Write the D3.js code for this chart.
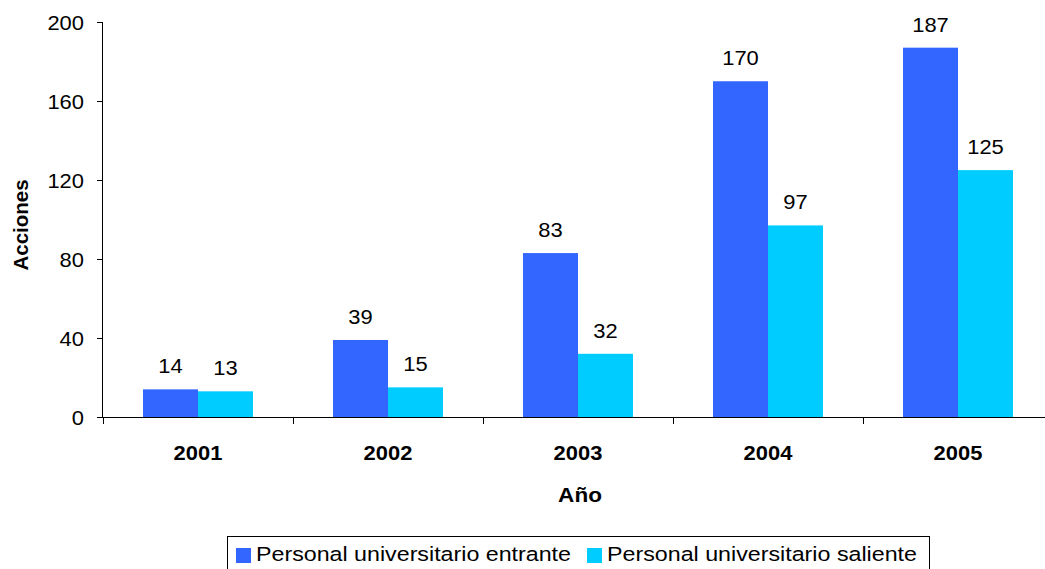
<!DOCTYPE html>
<html><head><meta charset="utf-8">
<script src="https://cdn.jsdelivr.net/npm/d3@7/dist/d3.min.js"></script>
<style>body{margin:0;background:#fff}svg{display:block;font-family:"Liberation Sans",Arial,sans-serif}</style>
</head><body><svg id="c" width="1045" height="569"></svg>
<script>
const categories = ["2001","2002","2003","2004","2005"];
const seriesNames = ["Personal universitario entrante","Personal universitario saliente"];
const entrante = [14,39,83,170,187];
const saliente = [13,15,32,97,125];
const yTicks = [0,40,80,120,160,200];
const colors = ["#3366FF","#00CCFF"];

(function(){
const svg = d3.select("#c");
const pLeft = 103, pRight = 1053, pTop = 22, pBottom = 417;
const FS = 20.5, SX = 1.07;
const x = d3.scaleBand().domain(categories).range([pLeft,pRight]).paddingInner(80/190).paddingOuter(40/190);
const xs = d3.scaleBand().domain([0,1]).range([0,x.bandwidth()]);
const y = d3.scaleLinear().domain([0,200]).range([pBottom,pTop]);
const series = [entrante, saliente];

// bars
series.forEach((vals,si)=>{
  svg.append("g").selectAll("rect").data(categories).join("rect")
    .attr("x",d=>x(d)+xs(si)).attr("width",xs.bandwidth())
    .attr("y",(d,i)=>y(vals[i])).attr("height",(d,i)=>y(0)-y(vals[i]))
    .attr("fill",colors[si]);
  svg.append("g").selectAll("text").data(categories).join("text")
    .attr("transform",(d,i)=>`translate(${x(d)+xs(si)+xs.bandwidth()/2},${y(vals[i])-16}) scale(${SX},1)`)
    .attr("text-anchor","middle").attr("font-size",FS).attr("fill","#000")
    .text((d,i)=>vals[i]);
});

// y axis
const yAxis = svg.append("g").attr("transform",`translate(${pLeft},0)`)
  .call(d3.axisLeft(y).tickValues(yTicks).tickSize(6).tickPadding(0));
yAxis.select(".domain").attr("stroke","#000").attr("d",`M-0.5,${pTop}V${pBottom}`);
yAxis.selectAll(".tick line").attr("stroke","#000");
yAxis.selectAll(".tick text")
  .attr("x",null).attr("dy",null)
  .attr("transform",`translate(-19,7.5) scale(${SX},1)`)
  .attr("font-size",FS).attr("font-family","Liberation Sans, Arial, sans-serif").attr("fill","#000");

// x axis
const bounds = categories.map(d=>x(d)-40).concat([pRight]);
svg.append("line").attr("x1",pLeft).attr("x2",pRight).attr("y1",pBottom+0.5).attr("y2",pBottom+0.5).attr("stroke","#000");
svg.append("g").selectAll("line").data(bounds).join("line")
  .attr("x1",d=>Math.round(d)+0.5).attr("x2",d=>Math.round(d)+0.5).attr("y1",pBottom).attr("y2",pBottom+7).attr("stroke","#000");
svg.append("g").selectAll("text").data(categories).join("text")
  .attr("transform",d=>`translate(${x(d)+x.bandwidth()/2},460) scale(${SX},1)`)
  .attr("text-anchor","middle").attr("font-size",FS).attr("font-weight","bold").text(d=>d);

// axis titles
svg.append("text").attr("transform",`translate(580,501.5) scale(1.1,1)`).attr("text-anchor","middle")
  .attr("font-size",FS).attr("font-weight","bold").text("Año");
svg.append("text").attr("transform","translate(27.5,225) rotate(-90)").attr("text-anchor","middle")
  .attr("font-size",FS).attr("font-weight","bold").text("Acciones");

// legend
const lg = svg.append("g");
lg.append("rect").attr("x",227.5).attr("y",536.5).attr("width",702).attr("height",40).attr("fill","none").attr("stroke","#000");
const lx = [236,587];
const tl = [315,310];
seriesNames.forEach((n,i)=>{
  lg.append("rect").attr("x",lx[i]).attr("y",548).attr("width",15).attr("height",15).attr("fill",colors[i]);
  lg.append("text").attr("x",lx[i]+20).attr("y",561).attr("font-size",FS)
    .attr("textLength",tl[i]).attr("lengthAdjust","spacingAndGlyphs").text(n);
});
})();
</script></body></html>
